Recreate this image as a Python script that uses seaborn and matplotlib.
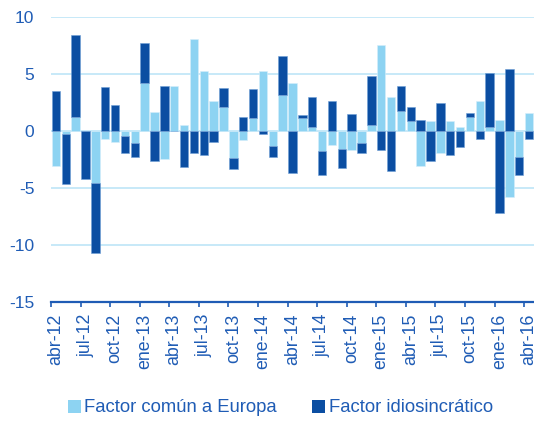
import matplotlib
matplotlib.use("Agg")
import matplotlib.pyplot as plt
import seaborn as sns
import numpy as np
import pandas as pd
from matplotlib.patches import Patch

# 49 months, abr-12 .. abr-16
mes_abbr = ["ene", "feb", "mar", "abr", "may", "jun", "jul", "ago", "sep",
            "oct", "nov", "dic"]
months = []
y, m = 12, 3
for i in range(49):
    months.append(f"{mes_abbr[m]}-{y}")
    m += 1
    if m == 12:
        m = 0
        y += 1

comun = [-3.1, -0.3, 1.2, 0.0, -4.6, -0.7, -1.0, -0.4, -1.1, 4.2,
         1.7, -2.45, 4.0, 0.5, 8.1, 5.3, 2.6, 2.1, -2.4, -0.8,
         1.1, 5.3, -1.3, 3.2, 4.2, 1.1, 0.35, -1.8, -1.2, -1.6,
         -1.7, -1.1, 0.5, 7.55, 2.95, 1.75, 0.9, -3.1, 0.9, -1.9,
         0.9, 0.35, 1.2, 2.65, 0.35, 1.0, -5.8, -2.3, 1.6]
idio = [3.5, -4.4, 7.2, -4.2, -6.1, 3.85, 2.3, -1.5, -1.15, 3.5,
        -2.6, 4.0, 0.0, -3.2, -1.9, -2.1, -1.0, 1.7, -0.95, 1.2,
        2.6, -0.3, -1.0, 3.4, -3.7, 0.3, 2.6, -2.05, 2.6, -1.7,
        1.5, -0.8, 4.35, -1.7, -3.5, 2.25, 1.2, 1.0, -2.65, 2.45,
        -2.15, -1.4, 0.35, -0.7, 4.75, -7.2, 5.45, -1.55, -0.7]
yticks = [10, 5, 0, -5, -10, -15]

LIGHT = "#8DD3F2"
DARK = "#0B4EA2"
TXT = "#1F5CB5"
GRID = "#BDE5F7"

c = np.array(comun)
d = np.array(idio)
bottom_d = np.where(np.sign(c) == np.sign(d), c, 0.0)

df = pd.DataFrame({"mes": months, "comun": c, "idio": d})

plt.rcParams["font.family"] = ["Liberation Sans", "DejaVu Sans"]
fig = plt.figure(figsize=(5.34, 4.22), dpi=100)
ax = fig.add_axes([51/534, 1 - 301.5/422, 1 - 51/534, (301.5 - 17.3)/422])

sns.barplot(data=df, x="mes", y="comun", order=months, color=LIGHT,
            saturation=1, width=0.85, errorbar=None, ax=ax,
            edgecolor="#d6eefa", linewidth=0.4, zorder=2)
sns.barplot(data=df, x="mes", y="idio", order=months, color=DARK,
            saturation=1, width=0.85, errorbar=None, ax=ax,
            bottom=bottom_d, edgecolor="#6f9fd6", linewidth=0.4, zorder=2)

ax.set_xlim(-0.5, 48.5)
ax.set_ylim(-15, 10)
ax.set_yticks(yticks)
ax.set_yticklabels([str(v) for v in yticks])
for v in yticks[:-1]:
    ax.axhline(v, color=GRID, lw=1.2, zorder=1)

ax.set_xticks(range(0, 49, 3))
ax.set_xticklabels([months[i] for i in range(0, 49, 3)], rotation=90)
ax.set_xticks(np.arange(-0.5, 49, 3), minor=True)
ax.tick_params(axis="x", which="major", length=0, pad=9, labelsize=12.8,
               labelcolor=TXT)
ax.tick_params(axis="x", which="minor", length=3.5, width=1.2, color=TXT,
               direction="out")
ax.tick_params(axis="y", length=0, pad=12, labelsize=12.5, labelcolor=TXT)

for s in ["top", "right", "left"]:
    ax.spines[s].set_visible(False)
ax.spines["bottom"].set_color(TXT)
ax.spines["bottom"].set_linewidth(1.6)
ax.set_xlabel("")
ax.set_ylabel("")
ax.set_facecolor("white")

handles = [Patch(facecolor=LIGHT, edgecolor="none", label="Factor común a Europa"),
           Patch(facecolor=DARK, edgecolor="none", label="Factor idiosincrático")]
leg = fig.legend(handles=handles, loc="center", bbox_to_anchor=(0.525, 1 - 408/422),
                 ncol=2, frameon=False, fontsize=13.3, handlelength=0.7,
                 handleheight=0.7, handletextpad=0.2, columnspacing=1.9)
for t in leg.get_texts():
    t.set_color(TXT)

fig.savefig("out.png", dpi=100)
